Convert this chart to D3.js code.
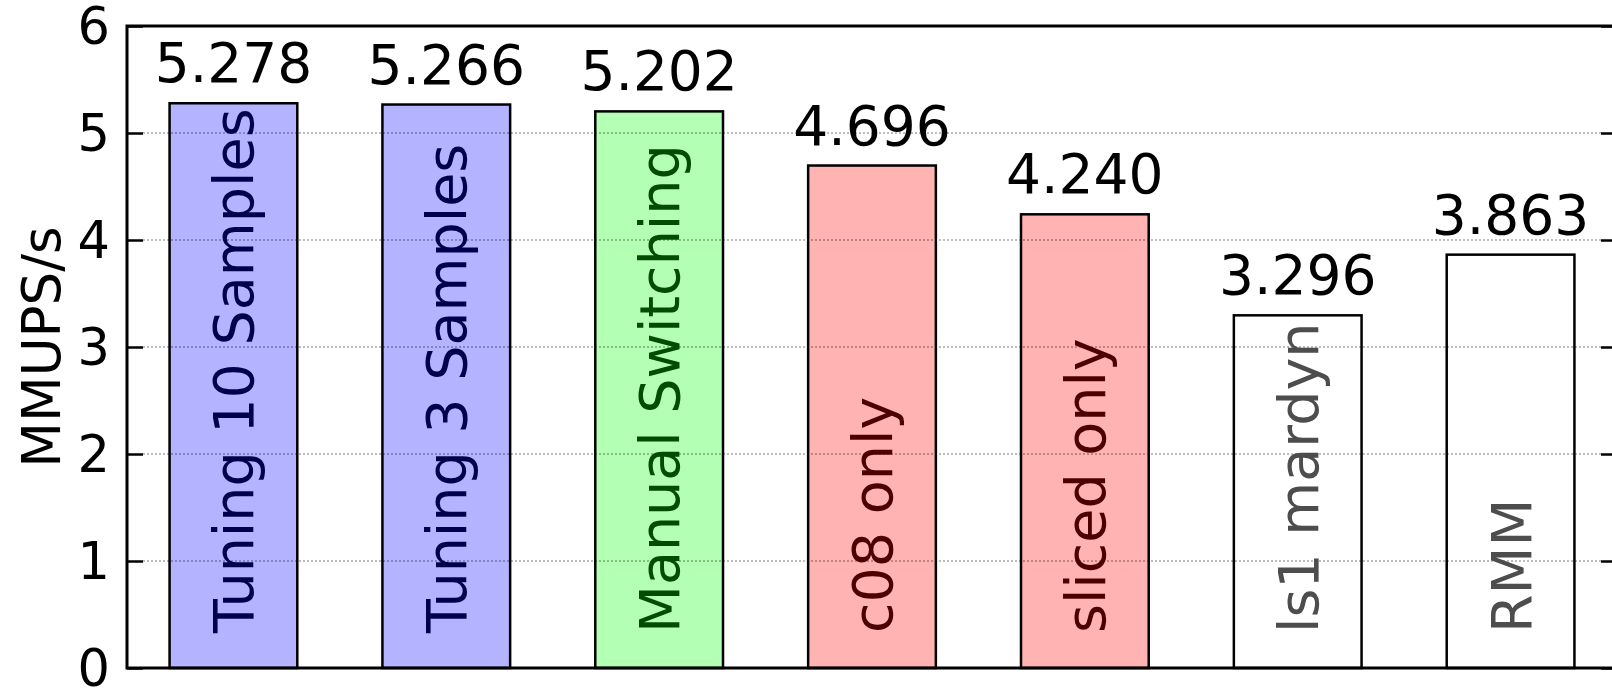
<!DOCTYPE html>
<html>
<head>
<meta charset="utf-8">
<script src="https://cdn.jsdelivr.net/npm/d3@7"></script>
<style>
  body { margin: 0; background: #fff; }
  text { font-family: "DejaVu Sans", sans-serif; }
</style>
</head>
<body>
<script>

var categories = ["Tuning 10 Samples", "Tuning 3 Samples", "Manual Switching", "c08 only", "sliced only", "ls1 mardyn", "RMM"];
var values = [5.278, 5.266, 5.202, 4.696, 4.240, 3.296, 3.863];
var valueLabels = ["5.278", "5.266", "5.202", "4.696", "4.240", "3.296", "3.863"];
var groups = ["tuning", "tuning", "manual", "single", "single", "other", "other"];
var yTicks = [0, 1, 2, 3, 4, 5, 6];

var fillColor = {tuning: "#b3b3ff", manual: "#b3ffb3", single: "#ffb3b3", other: "#ffffff"};
var textColor = {tuning: "#00004d", manual: "#004d00", single: "#4d0000", other: "#4d4d4d"};

var w = 1612;
var h = 689;
// plot box (window.top is reserved, so own names)
var plotL = 127, plotR = 1617, plotT = 26, plotB = 668;

var svg = d3.select("body")
    .append("svg")
    .attr("width", w)
    .attr("height", h);

var xScale = d3.scaleBand()
    .domain(categories)
    .range([plotL, plotR])
    .paddingInner(0.4)
    .paddingOuter(0.2);

var yScale = d3.scaleLinear()
    .domain([0, 6])
    .range([plotB, plotT]);

// bars
svg.selectAll(".bar")
    .data(categories)
    .enter()
    .append("rect")
    .attr("class", "bar")
    .attr("x", function(d) { return xScale(d); })
    .attr("y", function(d, i) { return yScale(values[i]); })
    .attr("width", xScale.bandwidth())
    .attr("height", function(d, i) { return yScale(0) - yScale(values[i]); })
    .style("fill", function(d, i) { return fillColor[groups[i]]; })
    .style("stroke", "#000")
    .style("stroke-width", 2.5);

// dotted grid, over the bar fill
svg.append("g")
    .selectAll("line")
    .data(yTicks.slice(1, 6))
    .enter()
    .append("line")
    .attr("x1", plotL + 16)
    .attr("x2", plotR - 16)
    .attr("y1", function(d) { return yScale(d); })
    .attr("y2", function(d) { return yScale(d); })
    .style("stroke", "rgba(0,0,0,0.35)")
    .style("stroke-width", 1.3)
    .style("stroke-dasharray", "2,2");

// names inside bars
svg.selectAll(".name")
    .data(categories)
    .enter()
    .append("text")
    .attr("class", "name")
    .attr("transform", function(d) { return "translate(" + (xScale(d) + xScale.bandwidth() / 2) + ",633) rotate(-90)"; })
    .attr("dy", "0.36em")
    .style("text-anchor", "start")
    .style("font-size", "55.5px")
    .style("fill", function(d, i) { return textColor[groups[i]]; })
    .text(function(d) { return d; });

// value labels
svg.selectAll(".val")
    .data(categories)
    .enter()
    .append("text")
    .attr("class", "val")
    .attr("x", function(d) { return xScale(d) + xScale.bandwidth() / 2; })
    .attr("y", function(d, i) { return yScale(values[i]) - 21; })
    .style("text-anchor", "middle")
    .style("font-size", "55px")
    .style("fill", "#000")
    .text(function(d, i) { return valueLabels[i]; });

// y axis, ticks inward on both sides
var yAxisL = d3.axisRight(yScale).tickValues(yTicks).tickSize(16).tickFormat("");
svg.append("g")
    .attr("transform", "translate(" + plotL + ",0)")
    .call(yAxisL)
    .call(function(g) { g.select(".domain").remove(); })
    .selectAll("line").style("stroke-width", 2.5);

var yAxisR = d3.axisLeft(yScale).tickValues(yTicks).tickSize(16).tickFormat("");
svg.append("g")
    .attr("transform", "translate(" + plotR + ",0)")
    .call(yAxisR)
    .call(function(g) { g.select(".domain").remove(); })
    .selectAll("line").style("stroke-width", 2.5);

svg.selectAll(".ytl")
    .data(yTicks)
    .enter()
    .append("text")
    .attr("class", "ytl")
    .attr("x", 110)
    .attr("y", function(d) { return yScale(d); })
    .attr("dy", "0.36em")
    .style("text-anchor", "end")
    .style("font-size", "51px")
    .text(function(d) { return d; });

// border
svg.append("rect")
    .attr("x", plotL)
    .attr("y", plotT)
    .attr("width", plotR - plotL)
    .attr("height", plotB - plotT)
    .style("fill", "none")
    .style("stroke", "#000")
    .style("stroke-width", 3);

svg.append("text")
    .attr("transform", "translate(41," + ((plotT + plotB) / 2) + ") rotate(-90)")
    .attr("dy", "0.36em")
    .style("text-anchor", "middle")
    .style("font-size", "53px")
    .text("MMUPS/s");

</script>
</body>
</html>
